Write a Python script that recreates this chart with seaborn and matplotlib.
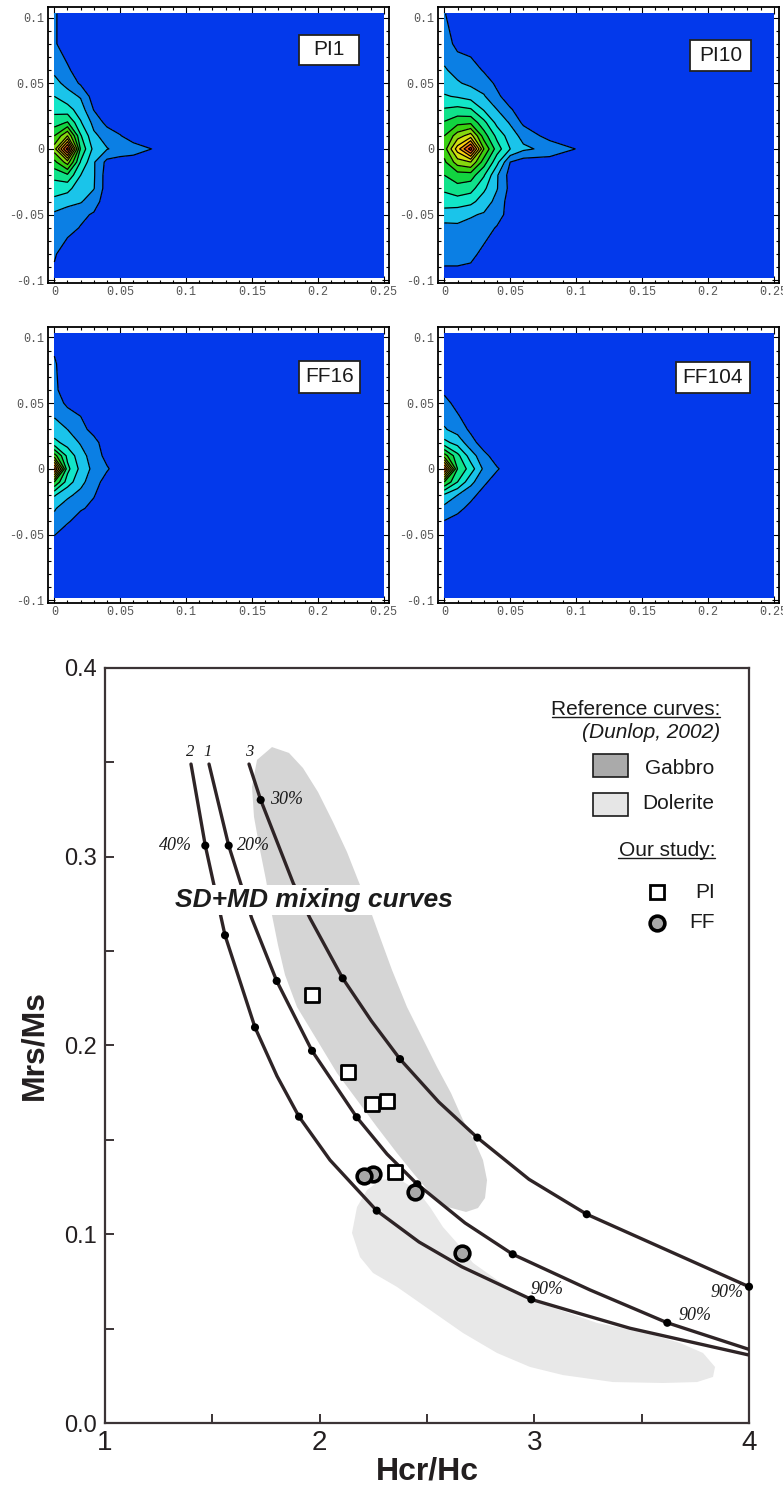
import numpy as np
import pandas as pd
import seaborn as sns
import matplotlib.pyplot as plt
from matplotlib.patches import Rectangle
from matplotlib.ticker import MultipleLocator

sns.set_theme(style="ticks")
plt.rcParams["font.family"] = ["Liberation Sans", "DejaVu Sans"]

# ---------------- FORC diagrams (values = contour level)
forc_hc = [0.0, 0.01, 0.02, 0.03, 0.04, 0.05, 0.06, 0.08, 0.10, 0.25]
forc_hu = [0.103, 0.08, 0.06, 0.05, 0.04, 0.03, 0.02, 0.01, 0.0,
           -0.01, -0.02, -0.03, -0.04, -0.05, -0.06, -0.08, -0.098]

forc_pi1 = [
    [0.62, 0, 0, 0, 0, 0, 0, 0, 0, 0],
    [0.62, 0, 0, 0, 0, 0, 0, 0, 0, 0],
    [1.3, 0.65, 0, 0, 0, 0, 0, 0, 0, 0],
    [1.8, 1.2, 0.35, 0, 0, 0, 0, 0, 0, 0],
    [2.5, 1.9, 1.4, 0, 0, 0, 0, 0, 0, 0],
    [3.2, 2.9, 2.0, 0.45, 0, 0, 0, 0, 0, 0],
    [4.0, 4.6, 2.6, 1.2, 0.2, 0, 0, 0, 0, 0],
    [5.5, 7.5, 3.6, 1.7, 1.1, 0.55, 0, 0, 0, 0],
    [7.0, 12.0, 4.3, 2.2, 1.55, 1.2, 0.95, 0.3, 0, 0],
    [5.2, 7.0, 3.4, 1.6, 0.2, 0, 0, 0, 0, 0],
    [3.8, 4.3, 2.5, 1.6, 0, 0, 0, 0, 0, 0],
    [3.0, 2.8, 1.9, 1.55, 0, 0, 0, 0, 0, 0],
    [2.2, 1.9, 1.6, 0.9, 0, 0, 0, 0, 0, 0],
    [1.3, 0.9, 0.7, 0.4, 0, 0, 0, 0, 0, 0],
    [1.0, 0.8, 0.45, 0, 0, 0, 0, 0, 0, 0],
    [0.6, 0, 0, 0, 0, 0, 0, 0, 0, 0],
    [0.3, 0, 0, 0, 0, 0, 0, 0, 0, 0],
]
forc_pi10 = [
    [0.55, 0, 0, 0, 0, 0, 0, 0, 0, 0],
    [1.0, 0.2, 0, 0, 0, 0, 0, 0, 0, 0],
    [1.6, 1.2, 1.0, 0.4, 0, 0, 0, 0, 0, 0],
    [2.0, 1.6, 1.3, 1.0, 0.3, 0, 0, 0, 0, 0],
    [2.6, 2.4, 2.1, 1.6, 0.7, 0, 0, 0, 0, 0],
    [3.6, 3.8, 3.6, 2.4, 1.5, 0.6, 0, 0, 0, 0],
    [4.6, 5.2, 5.3, 3.8, 2.2, 1.4, 0.3, 0, 0, 0],
    [5.5, 7.0, 8.0, 5.0, 3.2, 2.0, 1.17, 0.1, 0, 0],
    [6.0, 9.0, 12.0, 6.5, 4.0, 2.5, 1.7, 1.2, 0.48, 0],
    [5.3, 7.0, 7.5, 5.0, 2.8, 0.5, 0, 0, 0, 0],
    [4.5, 5.0, 5.0, 3.6, 1.6, 0.1, 0, 0, 0, 0],
    [3.7, 4.2, 3.9, 2.7, 1.55, 0.2, 0, 0, 0, 0],
    [3.0, 3.0, 2.8, 2.0, 1.2, 0, 0, 0, 0, 0],
    [2.0, 1.9, 1.6, 1.4, 1.0, 0, 0, 0, 0, 0],
    [1.2, 1.3, 1.2, 1.0, 0.4, 0, 0, 0, 0, 0],
    [1.0, 1.0, 0.8, 0.2, 0, 0, 0, 0, 0, 0],
    [0, 0, 0, 0, 0, 0, 0, 0, 0, 0],
]
forc_ff16 = [
    [0.2, 0, 0, 0, 0, 0, 0, 0, 0, 0],
    [0.6, 0, 0, 0, 0, 0, 0, 0, 0, 0],
    [0.7, 0, 0, 0, 0, 0, 0, 0, 0, 0],
    [1.0, 0.3, 0, 0, 0, 0, 0, 0, 0, 0],
    [1.45, 0.9, 0.5, 0, 0, 0, 0, 0, 0, 0],
    [1.9, 1.5, 0.8, 0.2, 0, 0, 0, 0, 0, 0],
    [2.8, 2.1, 1.4, 0.8, 0, 0, 0, 0, 0, 0],
    [6.0, 3.2, 1.9, 1.0, 0.2, 0, 0, 0, 0, 0],
    [11.0, 3.8, 2.2, 1.2, 0.6, 0, 0, 0, 0, 0],
    [5.5, 3.0, 1.8, 0.9, 0.1, 0, 0, 0, 0, 0],
    [2.6, 1.7, 1.2, 0.55, 0, 0, 0, 0, 0, 0],
    [1.6, 1.0, 0.6, 0.3, 0, 0, 0, 0, 0, 0],
    [1.2, 0.6, 0.1, 0, 0, 0, 0, 0, 0, 0],
    [0.55, 0, 0, 0, 0, 0, 0, 0, 0, 0],
    [0, 0, 0, 0, 0, 0, 0, 0, 0, 0],
    [0, 0, 0, 0, 0, 0, 0, 0, 0, 0],
    [0, 0, 0, 0, 0, 0, 0, 0, 0, 0],
]
forc_ff104 = [
    [0, 0, 0, 0, 0, 0, 0, 0, 0, 0],
    [0, 0, 0, 0, 0, 0, 0, 0, 0, 0],
    [0.3, 0, 0, 0, 0, 0, 0, 0, 0, 0],
    [0.8, 0.2, 0, 0, 0, 0, 0, 0, 0, 0],
    [1.2, 0.6, 0, 0, 0, 0, 0, 0, 0, 0],
    [1.6, 1.1, 0.3, 0, 0, 0, 0, 0, 0, 0],
    [2.8, 2.1, 0.9, 0, 0, 0, 0, 0, 0, 0],
    [6.0, 3.8, 2.0, 0.8, 0, 0, 0, 0, 0, 0],
    [11.0, 4.5, 3.0, 1.3, 0.6, 0, 0, 0, 0, 0],
    [5.5, 3.5, 1.8, 0.7, 0, 0, 0, 0, 0, 0],
    [2.3, 1.5, 0.8, 0.1, 0, 0, 0, 0, 0, 0],
    [1.2, 0.8, 0.2, 0, 0, 0, 0, 0, 0, 0],
    [0.45, 0.1, 0, 0, 0, 0, 0, 0, 0, 0],
    [0, 0, 0, 0, 0, 0, 0, 0, 0, 0],
    [0, 0, 0, 0, 0, 0, 0, 0, 0, 0],
    [0, 0, 0, 0, 0, 0, 0, 0, 0, 0],
    [0, 0, 0, 0, 0, 0, 0, 0, 0, 0],
]
panel_names = ["PI1", "PI10", "FF16", "FF104"]
panel_fields = [forc_pi1, forc_pi10, forc_ff16, forc_ff104]

line_levels = [0.5, 1.5, 2.5, 3.5, 4.5, 5.5, 6.5, 7.5, 8.5, 9.5, 10.5, 11.5]
fill_levels = [-1] + line_levels + [99]
band_colors = ["#0339eb", "#0b7fe4", "#1ac4ea", "#12e6c8", "#10e28a", "#12d440",
               "#3ad010", "#86d80e", "#d2e010", "#fad20e", "#fa9a0e", "#f4621a",
               "#e8341c"]

forc_xticks = [0, 0.05, 0.1, 0.15, 0.2, 0.25]
forc_xlabels = ["0", "0.05", "0.1", "0.15", "0.2", "0.25"]
forc_yticks = [-0.1, -0.05, 0, 0.05, 0.1]
forc_ylabels = ["-0.1", "-0.05", "0", "0.05", "0.1"]

# ---------------- Day plot data
curve1_hcr = [1.4845, 1.5762, 1.6834, 1.7998, 1.9643, 2.1725, 2.3136, 2.4548, 2.6770,
              2.8992, 3.2593, 3.6193, 4.0]
curve1_mrs = [0.3491, 0.3059, 0.2674, 0.2342, 0.1972, 0.1620, 0.1425, 0.1265, 0.1060,
              0.0894, 0.0705, 0.0531, 0.0390]
curve2_hcr = [1.4006, 1.4672, 1.5590, 1.6987, 1.8012, 1.9037, 2.0481, 2.2657, 2.4627,
              2.6616, 2.9858, 3.2159, 3.4456, 4.0]
curve2_mrs = [0.3491, 0.3059, 0.2584, 0.2096, 0.1838, 0.1623, 0.1393, 0.1125, 0.0959,
              0.0828, 0.0655, 0.0578, 0.0502, 0.0360]
curve3_hcr = [1.6708, 1.7253, 1.8772, 1.9550, 2.1073, 2.2410, 2.3742, 2.5545, 2.7343,
              2.9751, 3.2439, 4.0]
curve3_mrs = [0.3491, 0.3301, 0.2859, 0.2674, 0.2356, 0.2130, 0.1928, 0.1701, 0.1512,
              0.1291, 0.1106, 0.0722]

dots1_hcr = [1.5762, 1.7998, 1.9643, 2.1725, 2.4548, 2.8992, 3.6193]
dots1_mrs = [0.3059, 0.2342, 0.1972, 0.1620, 0.1265, 0.0894, 0.0531]
dots2_hcr = [1.4672, 1.5590, 1.6987, 1.9037, 2.2657, 2.9858]
dots2_mrs = [0.3059, 0.2584, 0.2096, 0.1623, 0.1125, 0.0655]
dots3_hcr = [1.7253, 2.1073, 2.3742, 2.7343, 3.2439, 4.0]
dots3_mrs = [0.3301, 0.2356, 0.1928, 0.1512, 0.1106, 0.0722]

gabbro_hcr = [1.7779, 1.8571, 1.9223, 1.9922, 2.0621, 2.1273, 2.1879, 2.2438, 2.2857,
              2.3369, 2.4068, 2.4767, 2.5466, 2.6118, 2.6677, 2.7236, 2.7608, 2.7795,
              2.7702, 2.7375, 2.6816, 2.5978, 2.5139, 2.4348, 2.3602, 2.2671, 2.1739,
              2.0807, 1.9876, 1.8944, 1.8385, 1.8059, 1.7779, 1.7500, 1.7220, 1.6941,
              1.6848, 1.7081]
gabbro_mrs = [0.3581, 0.3550, 0.3470, 0.3343, 0.3184, 0.3025, 0.2850, 0.2691, 0.2559,
              0.2400, 0.2204, 0.2045, 0.1886, 0.1748, 0.1605, 0.1489, 0.1393, 0.1287,
              0.1192, 0.1139, 0.1118, 0.1144, 0.1219, 0.1325, 0.1430, 0.1568, 0.1711,
              0.1854, 0.2029, 0.2204, 0.2374, 0.2532, 0.2691, 0.2877, 0.3036, 0.3211,
              0.3370, 0.3513]
dolerite_hcr = [2.1506, 2.1739, 2.2205, 2.2810, 2.3602, 2.4534, 2.5139, 2.5745, 2.6397,
                2.7143, 2.8261, 2.9472, 3.1195, 3.2919, 3.5248, 3.6785, 3.7857, 3.8416,
                3.8322, 3.7577, 3.5993, 3.3664, 3.1335, 2.9798, 2.8261, 2.6677, 2.5139,
                2.3602, 2.2484, 2.1879]
dolerite_mrs = [0.1007, 0.1144, 0.1234, 0.1287, 0.1298, 0.1234, 0.1144, 0.1038, 0.0954,
                0.0848, 0.0758, 0.0668, 0.0599, 0.0530, 0.0477, 0.0424, 0.0371, 0.0297,
                0.0244, 0.0217, 0.0212, 0.0217, 0.0254, 0.0297, 0.0371, 0.0477, 0.0599,
                0.0721, 0.0795, 0.0879]

pi_hcr = [1.9629, 2.1334, 2.2452, 2.3150, 2.3509]
pi_mrs = [0.2268, 0.1858, 0.1688, 0.1708, 0.1332]
ff_hcr = [2.2484, 2.2042, 2.4441, 2.6616]
ff_mrs = [0.1320, 0.1307, 0.1223, 0.0899]

# ---------------- figure
fig = plt.figure(figsize=(7.83, 14.88), dpi=100)

panel_rects = [[0.0613, 0.8098, 0.4355, 0.1855], [0.5594, 0.8098, 0.4355, 0.1855],
               [0.0613, 0.5948, 0.4355, 0.1855], [0.5594, 0.5948, 0.4355, 0.1855]]
box_rects = [(0.736, 0.789, 0.176, 0.111), (0.739, 0.768, 0.178, 0.114),
             (0.736, 0.762, 0.179, 0.115), (0.697, 0.760, 0.218, 0.112)]

for rect, name, field, box in zip(panel_rects, panel_names, panel_fields, box_rects):
    ax = fig.add_axes(rect)
    z = np.array(field)
    ax.contourf(forc_hc, forc_hu, z, levels=fill_levels, colors=band_colors)
    ax.contour(forc_hc, forc_hu, z, levels=line_levels, colors="black", linewidths=0.9)
    ax.set_xlim(-0.0048, 0.254)
    ax.set_ylim(-0.102, 0.108)
    ax.set_xticks(forc_xticks)
    ax.set_xticklabels(forc_xlabels, fontfamily="Liberation Mono", fontsize=8.5, color="#555555")
    ax.set_yticks(forc_yticks)
    ax.set_yticklabels(forc_ylabels, fontfamily="Liberation Mono", fontsize=8.5, color="#555555")
    ax.xaxis.set_minor_locator(MultipleLocator(0.01))
    ax.yaxis.set_minor_locator(MultipleLocator(0.01))
    ax.tick_params(which="both", direction="in", top=True, right=True, width=0.8, color="black")
    ax.tick_params(which="major", length=5, pad=2.5)
    ax.tick_params(which="minor", length=2.5)
    for s in ax.spines.values():
        s.set_linewidth(1.3)
        s.set_color("black")
    bx, by, bw, bh = box
    ax.add_patch(Rectangle((bx, by), bw, bh, transform=ax.transAxes, facecolor="white",
                           edgecolor="#222222", linewidth=1.3, zorder=5))
    ax.text(bx + bw / 2, by + bh / 2, name, transform=ax.transAxes, ha="center", va="center",
            fontsize=15, color="#1a1a1a", zorder=6)

# ---------------- Day plot
ax = fig.add_axes([0.1341, 0.04368, 0.8225, 0.5074])
curve_color = "#2e2426"

ax.fill(dolerite_hcr, dolerite_mrs, facecolor="#e8e8e8", edgecolor="none", zorder=1)
ax.fill(gabbro_hcr, gabbro_mrs, facecolor="#d5d5d5", edgecolor="none", zorder=1.5)

for cx, cy in [(curve1_hcr, curve1_mrs), (curve2_hcr, curve2_mrs), (curve3_hcr, curve3_mrs)]:
    sns.lineplot(x=cx, y=cy, sort=False, estimator=None, color=curve_color,
                 linewidth=2.4, ax=ax, zorder=3)
for dx, dy in [(dots1_hcr, dots1_mrs), (dots2_hcr, dots2_mrs), (dots3_hcr, dots3_mrs)]:
    sns.scatterplot(x=dx, y=dy, color="black", s=34, edgecolor="none", ax=ax,
                    zorder=4, legend=False, clip_on=False)

sns.scatterplot(x=pi_hcr, y=pi_mrs, marker="s", s=106, color="white", edgecolor="black",
                linewidth=2.0, ax=ax, zorder=6, legend=False)
sns.scatterplot(x=ff_hcr, y=ff_mrs, marker="o", s=112, color="#a8a8a8", edgecolor="black",
                linewidth=2.6, ax=ax, zorder=6, legend=False)

ax.text(1.971, 0.2771, "SD+MD mixing curves", fontsize=19, fontweight="bold", style="italic",
        color="#1c1c1c", ha="center", va="center", zorder=5,
        bbox=dict(boxstyle="square,pad=0.12", facecolor="white", edgecolor="none"))

serif = dict(family="Liberation Serif", style="italic", color="#1a1a1a", zorder=5)
ax.text(1.4053, 0.3057, "40%", ha="right", va="center", fontsize=13, **serif)
ax.text(1.6149, 0.3057, "20%", ha="left", va="center", fontsize=13, **serif)
ax.text(1.7686, 0.3301, "30%", ha="left", va="center", fontsize=13, **serif)
ax.text(2.9798, 0.0705, "90%", ha="left", va="center", fontsize=13, **serif)
ax.text(3.6692, 0.0572, "90%", ha="left", va="center", fontsize=13, **serif)
ax.text(3.8183, 0.0689, "90%", ha="left", va="center", fontsize=13, **serif)
ax.text(1.396, 0.3555, "2", ha="center", va="center", fontsize=12, **serif)
ax.text(1.4798, 0.3555, "1", ha="center", va="center", fontsize=12, **serif)
ax.text(1.6708, 0.3555, "3", ha="center", va="center", fontsize=12, **serif)

# legend (drawn by hand, axes fraction coordinates)
leg = dict(transform=ax.transAxes, fontsize=15, color="#1a1a1a", va="center")
ax.text(0.955, 0.9444, "Reference curves:", ha="right", **leg)
ax.plot([0.6941, 0.955], [0.9351, 0.9351], transform=ax.transAxes, color="#1a1a1a", lw=1.0)
ax.text(0.955, 0.9139, "(Dunlop, 2002)", ha="right", style="italic", **leg)
ax.add_patch(Rectangle((0.7578, 0.8556), 0.0543, 0.0305, transform=ax.transAxes,
                       facecolor="#aaaaaa", edgecolor="#1a1a1a", linewidth=1.2))
ax.text(0.9457, 0.8675, "Gabbro", ha="right", **leg)
ax.add_patch(Rectangle((0.7578, 0.8040), 0.0543, 0.0305, transform=ax.transAxes,
                       facecolor="#e6e6e6", edgecolor="#1a1a1a", linewidth=1.2))
ax.text(0.9457, 0.8199, "Dolerite", ha="right", **leg)
ax.text(0.9472, 0.7589, "Our study:", ha="right", **leg)
ax.plot([0.7966, 0.9472], [0.7483, 0.7483], transform=ax.transAxes, color="#1a1a1a", lw=1.0)
ax.plot([0.8571], [0.7033], transform=ax.transAxes, marker="s", ms=10.3, mfc="white",
        mec="black", mew=2.0, ls="none")
ax.text(0.9472, 0.7033, "PI", ha="right", **leg)
ax.plot([0.8571], [0.6623], transform=ax.transAxes, marker="o", ms=10.6, mfc="#a8a8a8",
        mec="black", mew=2.6, ls="none")
ax.text(0.9472, 0.6623, "FF", ha="right", **leg)

ax.set_xlim(1, 4)
ax.set_ylim(0, 0.4)
ax.set_xticks([1, 2, 3, 4])
ax.set_xticklabels(["1", "2", "3", "4"], fontsize=20, color="#231f20")
ax.set_xticks([1.5, 2.5, 3.5], minor=True)
ax.set_yticks([0, 0.1, 0.2, 0.3, 0.4])
ax.set_yticklabels(["0.0", "0.1", "0.2", "0.3", "0.4"], fontsize=17, color="#231f20")
ax.set_yticks([0.05, 0.15, 0.25, 0.35], minor=True)
ax.tick_params(which="both", direction="in", length=6.5, width=1.4, color="#3b3436")
ax.tick_params(axis="x", which="major", pad=5)
ax.tick_params(axis="y", which="major", pad=6)
for s in ax.spines.values():
    s.set_linewidth(1.6)
    s.set_color("#3b3436")

ax.set_xlabel("Hcr/Hc", fontsize=23, fontweight="bold", color="#231f20", va="center")
ax.set_ylabel("Mrs/Ms", fontsize=23, fontweight="bold", color="#231f20", va="center")
ax.xaxis.set_label_coords(0.5, -0.0636)
ax.yaxis.set_label_coords(-0.110, 0.5)

fig.savefig("out.png", dpi=100, facecolor="white")
